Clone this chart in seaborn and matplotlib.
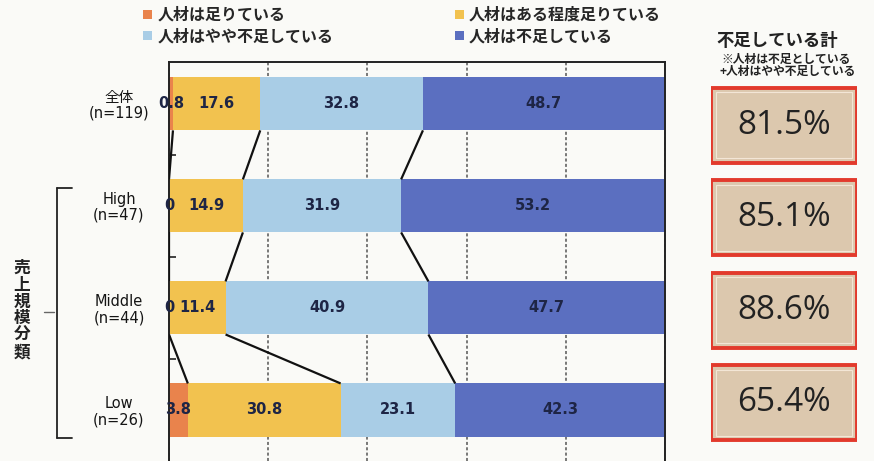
import matplotlib
matplotlib.use("Agg")
import matplotlib.pyplot as plt
import seaborn as sns
import pandas as pd
import numpy as np
from matplotlib.patches import Rectangle, Patch
from matplotlib.lines import Line2D

# ---------------- data ----------------
categories = ["全体\n(n=119)", "High\n(n=47)", "Middle\n(n=44)", "Low\n(n=26)"]
series_names = ["人材は足りている", "人材はある程度足りている",
                "人材はやや不足している", "人材は不足している"]
sufficient = [0.8, 0.0, 0.0, 3.8]
somewhat_sufficient = [17.6, 14.9, 11.4, 30.8]
somewhat_short = [32.8, 31.9, 40.9, 23.1]
short = [48.7, 53.2, 47.7, 42.3]
shortage_total = [81.5, 85.1, 88.6, 65.4]
group_label = "売上規模分類"
total_title = "不足している計"
total_note = ["※人材は不足としている", "+人材はやや不足している"]

colors = ["#e9834c", "#f2c24f", "#a9cde6", "#5b6fc0"]
bg = "#fafaf7"

# ---------------- style ----------------
sns.set_theme(style="white")
plt.rcParams['font.family'] = ['Noto Sans CJK JP', 'DejaVu Sans']

series = [sufficient, somewhat_sufficient, somewhat_short, short]
cum = np.cumsum(np.array(series), axis=0)
df = pd.DataFrame({"category": categories})
for k in range(4):
    df[f"c{k}"] = cum[k]

W, H = 874, 461
fig = plt.figure(figsize=(W / 100, H / 100), dpi=100, facecolor=bg)
ax = fig.add_axes([169 / W, 0, 496 / W, 399 / H])
ax.set_facecolor(bg)

bar_h = 0.52
for k in range(3, -1, -1):
    sns.barplot(data=df, x=f"c{k}", y="category", color=colors[k], width=bar_h,
                saturation=1, errorbar=None, edgecolor="none", linewidth=0,
                ax=ax, zorder=2)

ax.set_xlim(0, 100)
ax.set_ylim(3.5, -0.41)
ax.set_xlabel("")
ax.set_ylabel("")
ax.set_xticks([0, 20, 40, 60, 80, 100])
ax.set_xticklabels([])
ax.tick_params(axis="x", length=0)
ax.xaxis.grid(True, linestyle=(0, (2, 1.5)), color="#555555", linewidth=1.1)
ax.set_axisbelow(True)

ax.set_yticks(range(4))
ax.set_yticklabels(categories, ha="center", multialignment="center",
                   fontsize=10.5, family=['DejaVu Sans', 'Noto Sans CJK JP'],
                   color="#151515", linespacing=1.05)
ax.tick_params(axis="y", which="major", length=0, pad=36)
ax.set_yticks([0.5, 1.5, 2.5], minor=True)
ax.tick_params(axis="y", which="minor", direction="in", length=5, width=1.2,
               color="#222222", left=True)

for side in ["left", "top", "right"]:
    ax.spines[side].set_visible(True)
    ax.spines[side].set_color("#222222")
    ax.spines[side].set_linewidth(1.4)
ax.spines["bottom"].set_visible(False)

# connector lines between consecutive bars
for i in range(len(categories) - 1):
    for b in range(3):
        ax.plot([cum[b][i], cum[b][i + 1]], [i + bar_h / 2, i + 1 - bar_h / 2],
                color="#111111", lw=1.6, zorder=3, solid_capstyle="butt")

# value labels
for k, vals in enumerate(series):
    for i, v in enumerate(vals):
        xc = cum[k][i] - v / 2
        txt = "0" if v == 0 else f"{v:.1f}"
        ax.text(xc, i, txt, ha="center", va="center", fontsize=10.5,
                fontweight="bold", family="DejaVu Sans", color="#1e2545",
                zorder=5)

# legend
handles = [Patch(facecolor=c, edgecolor="none", label=n) for c, n in zip(colors, series_names)]
order = [0, 2, 1, 3]
fig.legend([handles[o] for o in order], [series_names[o] for o in order],
           loc="upper left", bbox_to_anchor=(143 / W, 1 - 7 / H), ncol=2,
           frameon=False, handlelength=0.55, handleheight=0.55,
           handletextpad=0.35, columnspacing=7.6, labelspacing=0.32,
           borderaxespad=0, borderpad=0,
           prop={"family": ['Noto Sans CJK JP', 'DejaVu Sans'], "weight": "bold", "size": 11.5})

# right-hand totals
fig.text(777 / W, 1 - 41 / H, total_title, ha="center", va="center",
         fontsize=12.5, fontweight="bold", color="#222222")
fig.text(786 / W, 1 - 59 / H, total_note[0], ha="center", va="center",
         fontsize=8.5, fontweight="bold", color="#222222")
fig.text(788 / W, 1 - 71 / H, total_note[1], ha="center", va="center",
         fontsize=8.5, fontweight="bold", color="#222222")

ax2 = fig.add_axes([711 / W, 1 - 448 / H, 146 / W, 368 / H])
ax2.set_xlim(0, 1)
ax2.set_ylim(3.486, -0.486)
ax2.axis("off")
box_h = 0.81
for i, v in enumerate(shortage_total):
    ax2.add_patch(Rectangle((0.0, i - box_h / 2), 1.0, box_h, facecolor="#dcc8ae",
                            edgecolor="#e23a2c", linewidth=2.8, zorder=2))
    ax2.add_patch(Rectangle((0.035, i - box_h / 2 + 0.05), 0.93, box_h - 0.1,
                            facecolor="none", edgecolor="#f3e6d6", linewidth=0.8, zorder=3))
    ax2.text(0.5, i, f"{v:.1f}%", ha="center", va="center", fontsize=24,
             family="Open Sans", color="#222222", zorder=4)

# bracket for group label
lc = "#222222"
fig.add_artist(Line2D([57 / W, 57 / W], [1 - 188 / H, 1 - 438 / H],
                      transform=fig.transFigure, color=lc, lw=1.3))
fig.add_artist(Line2D([57 / W, 72 / W], [1 - 188 / H, 1 - 188 / H],
                      transform=fig.transFigure, color=lc, lw=1.3))
fig.add_artist(Line2D([57 / W, 72 / W], [1 - 438 / H, 1 - 438 / H],
                      transform=fig.transFigure, color=lc, lw=1.3))
fig.add_artist(Line2D([44 / W, 54 / W], [1 - 312 / H, 1 - 312 / H],
                      transform=fig.transFigure, color="#666666", lw=1.0))
fig.text(22 / W, 1 - 310 / H, "\n".join(group_label), ha="center", va="center",
         fontsize=12, fontweight="bold", linespacing=0.92, color="#222222")

fig.savefig("out.png", dpi=100, facecolor=bg)
